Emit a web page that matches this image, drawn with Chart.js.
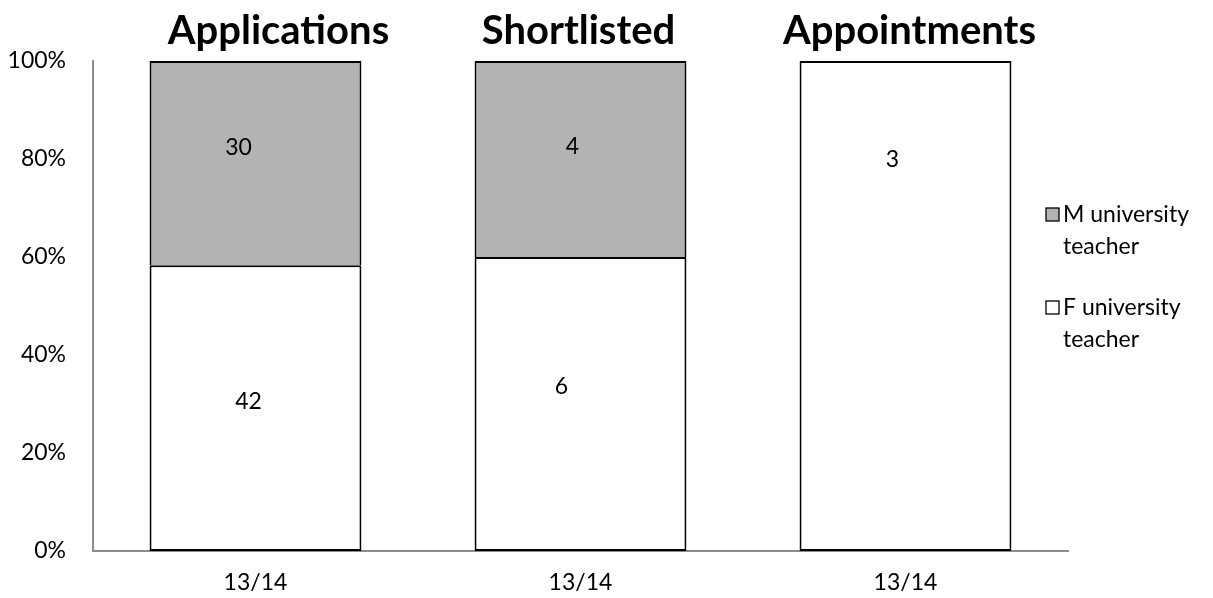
<!DOCTYPE html>
<html>
<head>
<meta charset="utf-8">
<script src="https://cdn.jsdelivr.net/npm/chart.js@4/dist/chart.umd.min.js"></script>
<style>
  html, body { margin: 0; padding: 0; background: #fff; }
  #wrap { width: 1213px; height: 598px; position: relative; }
</style>
</head>
<body>
<div id="wrap"><canvas id="ch_stages"></canvas></div>
<script>
// values
const periodLabels  = ['13/14', '13/14', '13/14'];
const stageTitles   = ['Applications', 'Shortlisted', 'Appointments'];
const femaleCounts  = [42, 6, 3];
const maleCounts    = [30, 4, 0];
const yTicks        = [0, 20, 40, 60, 80, 100];

const FONT = 'Lato, "Open Sans", sans-serif';

// 100% stacked: share of each group per stage
const totals = femaleCounts.map((f, i) => f + maleCounts[i]);
const femalePct = femaleCounts.map((f, i) => f / totals[i] * 100);
const malePct   = maleCounts.map((m, i) => m / totals[i] * 100);

/* ── count labels, nudged like the original hand-placed ones ─────── */
const countLabels = {
  id: 'countLabels',
  afterDatasetsDraw(chart, args, opts) {
    const { ctx } = chart;
    ctx.save();
    ctx.font = `23px ${FONT}`;
    ctx.fillStyle = '#000';
    ctx.textAlign = 'center';
    ctx.textBaseline = 'middle';
    chart.data.datasets.forEach((ds, di) => {
      const meta = chart.getDatasetMeta(di);
      meta.data.forEach((bar, i) => {
        const n = ds.counts[i];
        if (!n) return;
        const nudge = (opts.nudge[di] || [])[i] || [0, 0];
        const cy = (bar.y + bar.base) / 2;
        ctx.fillText(String(n), bar.x + nudge[0], cy + nudge[1]);
      });
    });
    ctx.restore();
  }
};

/* ── stage titles above each bar ─────────────────────────────────── */
const stageHeads = {
  id: 'stageHeads',
  afterDraw(chart, args, opts) {
    const { ctx } = chart;
    const xs = chart.scales.x;
    ctx.save();
    ctx.font = `bold 40px ${FONT}`;
    ctx.fillStyle = '#000';
    ctx.textAlign = 'center';
    ctx.textBaseline = 'alphabetic';
    stageTitles.forEach((t, i) => {
      ctx.fillText(t, xs.getPixelForValue(i) + (opts.dx[i] || 0), 44);
    });
    ctx.restore();
  }
};

/* ── side legend with wrapped text ───────────────────────────────── */
const sideLegend = {
  id: 'sideLegend',
  afterDraw(chart) {
    const { ctx, chartArea } = chart;
    const x = chartArea.right - 22;
    const items = chart.data.datasets.slice().reverse();
    ctx.save();
    ctx.font = `23px ${FONT}`;
    ctx.textBaseline = 'middle';
    ctx.textAlign = 'left';
    items.forEach((ds, k) => {
      const y = 215 + k * 93;
      ctx.fillStyle = ds.backgroundColor;
      ctx.fillRect(x, y - 7, 13, 13);
      ctx.strokeStyle = '#000';
      ctx.lineWidth = 1.3;
      ctx.strokeRect(x, y - 7, 13, 13);
      ctx.fillStyle = '#000';
      ds.legendLines.forEach((line, j) => ctx.fillText(line, x + 17, y + j * 32));
    });
    ctx.restore();
  }
};

const canvas = document.getElementById('ch_stages');
new Chart(canvas.getContext('2d'), {
  type: 'bar',
  data: {
    labels: periodLabels,
    datasets: [
      {
        label: 'F university teacher',
        legendLines: ['F university', 'teacher'],
        counts: femaleCounts,
        data: femalePct,
        backgroundColor: '#ffffff',
        borderColor: '#000000',
        borderWidth: 2,
        borderSkipped: false,
        barPercentage: 0.652,
        categoryPercentage: 1
      },
      {
        label: 'M university teacher',
        legendLines: ['M university', 'teacher'],
        counts: maleCounts,
        data: malePct,
        backgroundColor: '#b3b3b3',
        borderColor: '#000000',
        borderWidth: 2,
        borderSkipped: 'start',  // F segment already draws the shared edge
        barPercentage: 0.652,
        categoryPercentage: 1
      }
    ]
  },
  options: {
    responsive: true,
    maintainAspectRatio: false,
    animation: false,
    layout: { padding: { left: 0, right: 145, top: 61, bottom: 0 } },
    plugins: {
      legend: { display: false },
      tooltip: { enabled: false },
      stageHeads: { dx: [23, -2, 4] },
      countLabels: {
        nudge: {
          0: [[-7, -7], [-19, -17], [-13, -146]],
          1: [[-17, -16], [-8, -12], [0, 0]]
        }
      }
    },
    scales: {
      x: {
        stacked: true,
        grid: { display: false, drawTicks: false },
        border: { display: true, color: '#8c8c8c', width: 2 },
        ticks: { color: '#000', padding: 18, font: { family: FONT, size: 23 } },
        afterFit: s => { s.height = 47; }
      },
      y: {
        stacked: true,
        min: 0,
        max: 100,
        afterBuildTicks: s => { s.ticks = yTicks.map(v => ({ value: v })); },
        grid: { display: false, drawTicks: false },
        border: { display: true, color: '#8c8c8c', width: 2 },
        ticks: { color: '#000', padding: 27, font: { family: FONT, size: 23 }, callback: v => v + '%' },
        afterFit: s => { s.width = 93; }
      }
    }
  },
  plugins: [countLabels, stageHeads, sideLegend]
});
</script>
</body>
</html>
